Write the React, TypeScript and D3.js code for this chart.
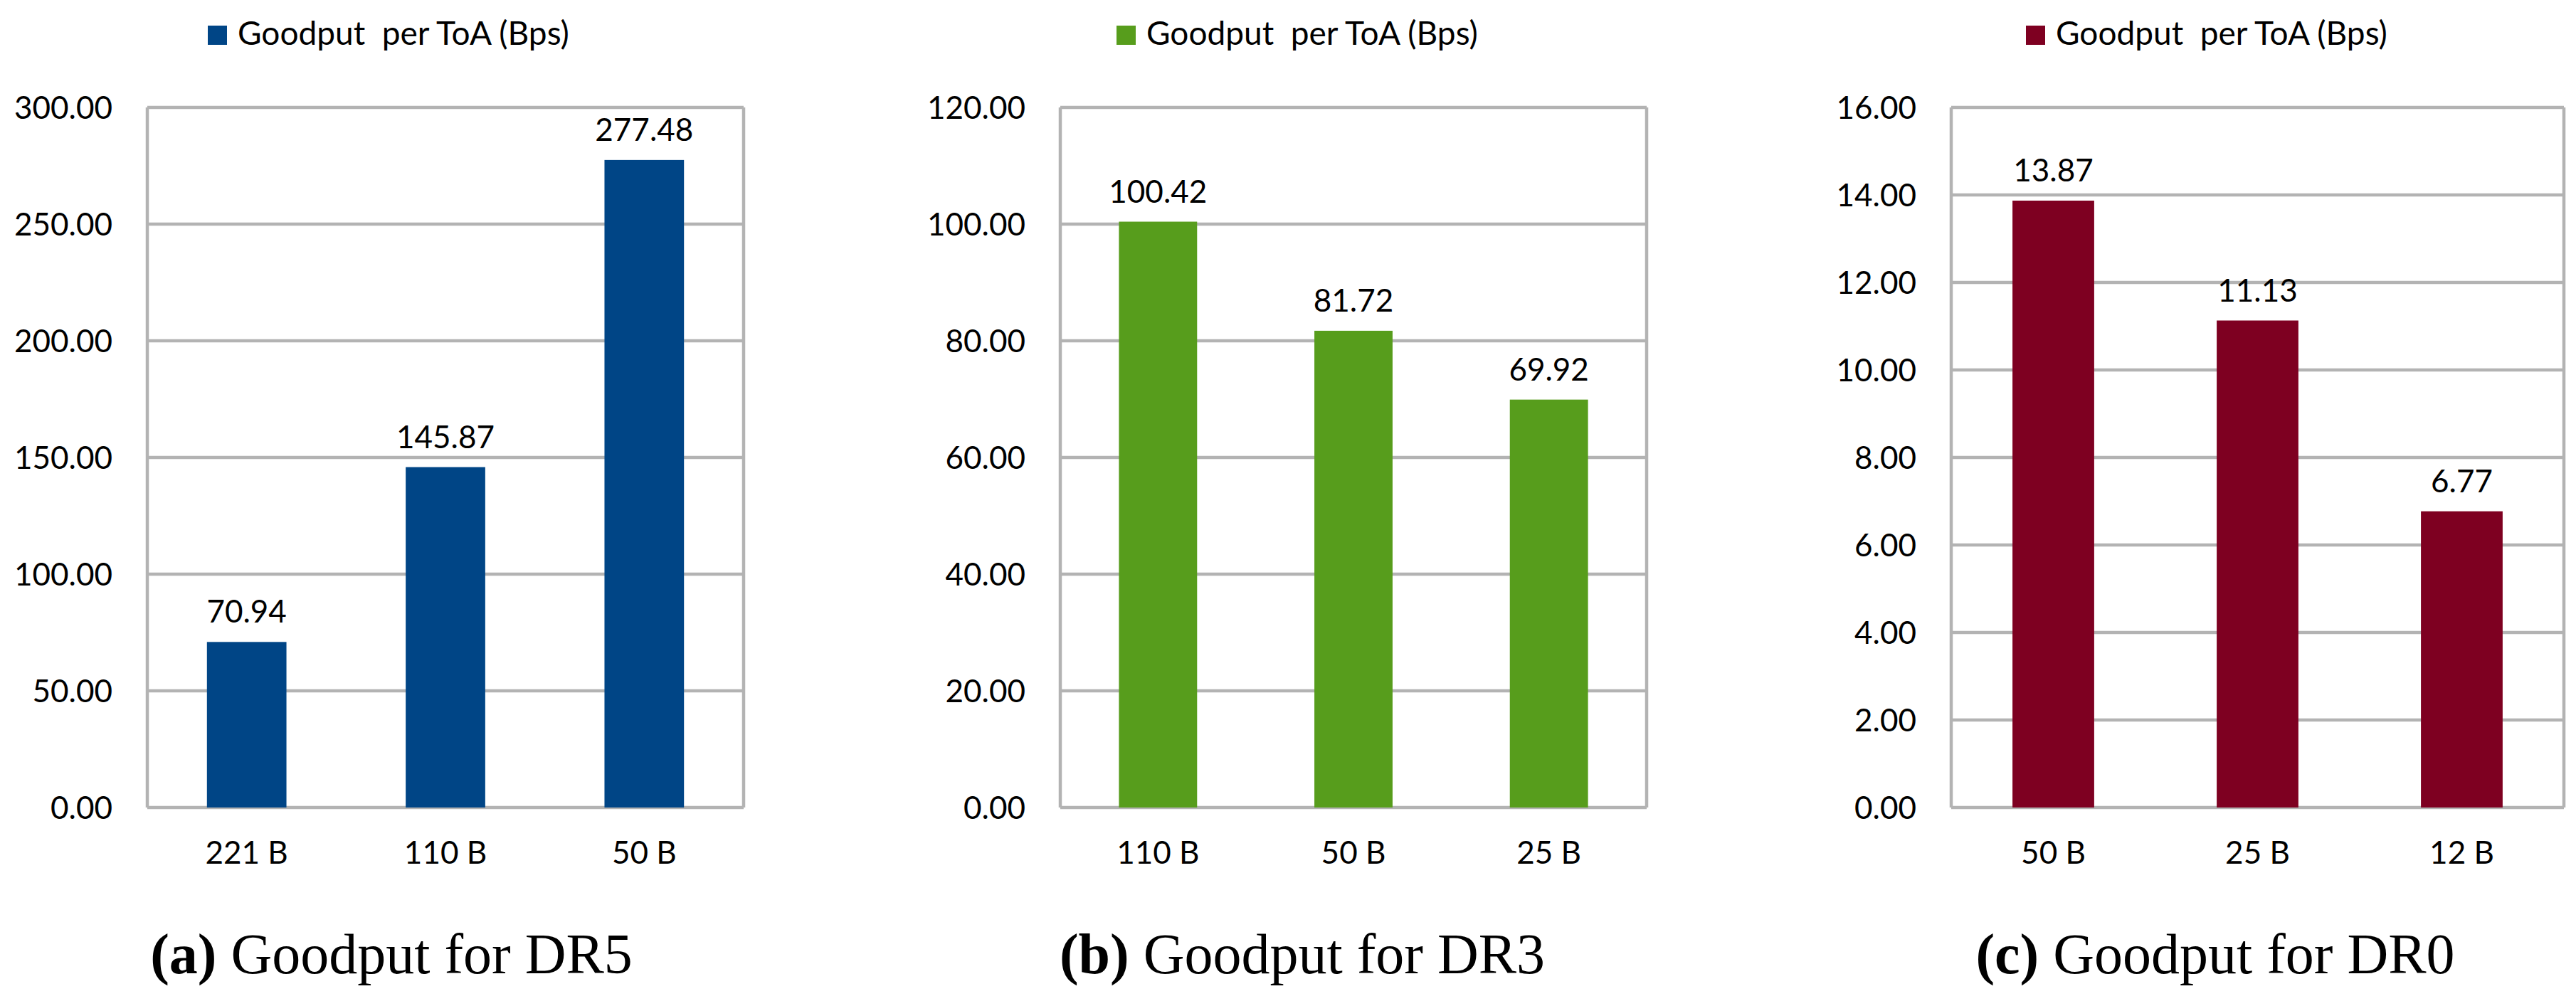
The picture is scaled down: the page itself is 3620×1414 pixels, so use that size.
import React from "react";
import * as d3 from "d3";

const catsDR5 = ["221 B", "110 B", "50 B"];
const valsDR5 = [70.94, 145.87, 277.48];
const catsDR3 = ["110 B", "50 B", "25 B"];
const valsDR3 = [100.42, 81.72, 69.92];
const catsDR0 = ["50 B", "25 B", "12 B"];
const valsDR0 = [13.87, 11.13, 6.77];

const ticksDR5 = [0, 50, 100, 150, 200, 250, 300];
const ticksDR3 = [0, 20, 40, 60, 80, 100, 120];
const ticksDR0 = [0, 2, 4, 6, 8, 10, 12, 14, 16];

const legendLabel = "Goodput  per ToA (Bps)";

const panels = [
  { tag: "(a)", title: " Goodput for DR5", cats: catsDR5, vals: valsDR5, ticks: ticksDR5, color: "#004586", left: 207, right: 1045, center: 550, legendX: 292 },
  { tag: "(b)", title: " Goodput for DR3", cats: catsDR3, vals: valsDR3, ticks: ticksDR3, color: "#579d1c", left: 1490, right: 2314, center: 1830, legendX: 1569 },
  { tag: "(c)", title: " Goodput for DR0", cats: catsDR0, vals: valsDR0, ticks: ticksDR0, color: "#7e0021", left: 2742, right: 3603, center: 3113, legendX: 2847 },
];

const top = 151;
const bottom = 1135;
const grid = "#b3b3b3";
const sans = "Lato, 'Open Sans', sans-serif";
const fs = 44;

function Panel({ p }: { p: any }) {
  const x = d3.scaleBand<string>().domain(p.cats).range([p.left, p.right]).paddingInner(0.6).paddingOuter(0.3);
  const y = d3.scaleLinear().domain([0, p.ticks[p.ticks.length - 1]]).range([bottom, top]);

  return (
    <g>
      {/* legend */}
      <rect x={p.legendX} y={36} width={27} height={27} fill={p.color} />
      <text x={p.legendX + 42} y={63} fontFamily={sans} fontSize={46} style={{ whiteSpace: "pre" }}>{legendLabel}</text>

      {/* gridlines and frame */}
      {p.ticks.map((t: number) => (
        <line key={t} x1={p.left} x2={p.right} y1={y(t)} y2={y(t)} stroke={grid} strokeWidth={4.5} />
      ))}
      <line x1={p.left} x2={p.left} y1={top} y2={bottom} stroke={grid} strokeWidth={4.5} />
      <line x1={p.right} x2={p.right} y1={top} y2={bottom} stroke={grid} strokeWidth={4.5} />

      {/* y ticks */}
      {p.ticks.map((t: number) => (
        <text key={"t" + t} x={p.left - 49} y={y(t)} dy="0.36em" textAnchor="end" fontFamily={sans} fontSize={fs}>
          {t.toFixed(2)}
        </text>
      ))}

      {/* bars */}
      {p.cats.map((c: string, i: number) => (
        <g key={c}>
          <rect x={x(c)} y={y(p.vals[i])} width={x.bandwidth()} height={y(0) - y(p.vals[i])} fill={p.color} />
          <text x={(x(c) as number) + x.bandwidth() / 2} y={y(p.vals[i]) - 27} textAnchor="middle" fontFamily={sans} fontSize={fs}>
            {p.vals[i].toFixed(2)}
          </text>
          <text x={(x(c) as number) + x.bandwidth() / 2} y={1214} textAnchor="middle" fontFamily={sans} fontSize={fs}>
            {c}
          </text>
        </g>
      ))}

      {/* caption */}
      <text x={p.center} y={1368} textAnchor="middle" fontFamily="'Liberation Serif', serif" fontSize={80}>
        <tspan fontWeight="bold">{p.tag}</tspan>
        <tspan>{p.title}</tspan>
      </text>
    </g>
  );
}

export default function App() {
  return (
    <div>
      <style>{"body{margin:0}"}</style>
      <svg width={3620} height={1414} style={{ display: "block", background: "#fff" }}>
        {panels.map((p) => (
          <Panel key={p.tag} p={p} />
        ))}
      </svg>
    </div>
  );
}
